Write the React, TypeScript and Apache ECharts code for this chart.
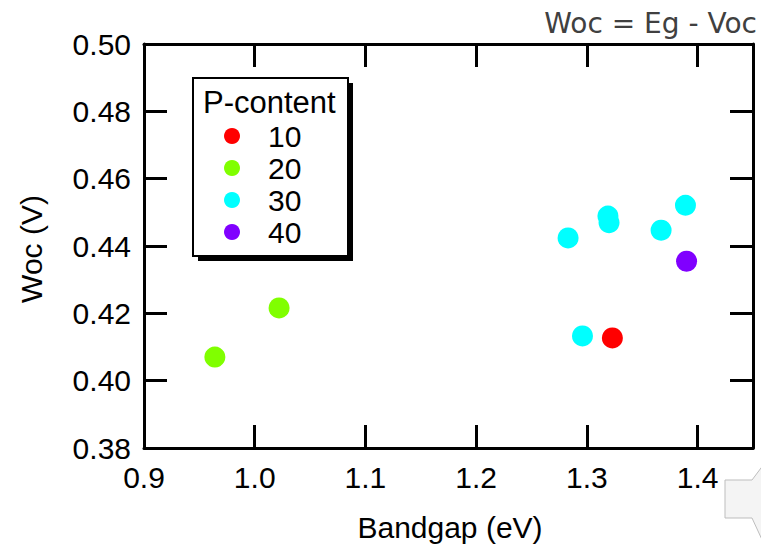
import React, { useEffect, useRef } from "react";
import * as echarts from "echarts";

const seriesNames = ["10", "20", "30", "40"];
const seriesColors = ["#ff0000", "#80ff00", "#00ffff", "#8000ff"];

const bandgap10 = [1.323];
const woc10 = [0.4127];
const bandgap20 = [0.964, 1.022];
const woc20 = [0.407, 0.4216];
const bandgap30 = [1.283, 1.296, 1.319, 1.32, 1.367, 1.389];
const woc30 = [0.4424, 0.4133, 0.4489, 0.4469, 0.4447, 0.4521];
const bandgap40 = [1.39];
const woc40 = [0.4355];

const xName = "Bandgap (eV)";
const yName = "Woc (V)";
const titleText = "Woc = Eg - Voc";
const legendTitle = "P-content";

const FONT = "'Liberation Sans', Arial, Helvetica, sans-serif";

export default function App() {
  const ref = useRef<HTMLDivElement>(null);
  useEffect(() => {
    if (!ref.current) return;
    const chart = echarts.init(ref.current, undefined, { renderer: "svg" });
    const xs = [bandgap10, bandgap20, bandgap30, bandgap40];
    const ys = [woc10, woc20, woc30, woc40];
    const series = seriesNames.map((name, i) => ({
      type: "scatter",
      name,
      xAxisIndex: 0,
      yAxisIndex: 0,
      symbol: "circle",
      symbolSize: 21,
      itemStyle: { color: seriesColors[i], opacity: 1 },
      data: xs[i].map((x, j) => [x, ys[i][j]]),
      z: 2,
    }));
    const axisLine = { show: true, onZero: false, lineStyle: { color: "#000", width: 3 } };
    const axisTick = { show: true, inside: true, length: 23, lineStyle: { color: "#000", width: 3 } };
    chart.setOption({
      animation: false,
      backgroundColor: "#fff",
      grid: { left: 144, top: 44, right: 8, bottom: 98, containLabel: false },
      xAxis: [
        {
          type: "value",
          position: "bottom",
          min: 0.9,
          max: 1.45,
          interval: 0.1,
          axisLine,
          axisTick,
          splitLine: { show: false },
          axisLabel: {
            show: true,
            fontSize: 30,
            fontFamily: FONT,
            color: "#000",
            margin: 14,
            showMaxLabel: false,
            formatter: (v: number) => v.toFixed(1),
          },
        },
        {
          type: "value",
          position: "top",
          min: 0.9,
          max: 1.45,
          interval: 0.1,
          axisLine,
          axisTick,
          splitLine: { show: false },
          axisLabel: { show: false },
        },
      ],
      yAxis: [
        {
          type: "value",
          position: "left",
          min: 0.38,
          max: 0.5,
          interval: 0.02,
          axisLine,
          axisTick,
          splitLine: { show: false },
          axisLabel: {
            show: true,
            fontSize: 30,
            fontFamily: FONT,
            color: "#000",
            margin: 13,
            formatter: (v: number) => v.toFixed(2),
          },
        },
        {
          type: "value",
          position: "right",
          min: 0.38,
          max: 0.5,
          interval: 0.02,
          axisLine,
          axisTick,
          splitLine: { show: false },
          axisLabel: { show: false },
        },
      ],
      legend: {
        show: true,
        orient: "vertical",
        left: 224,
        top: 120,
        padding: 0,
        itemGap: 0,
        itemWidth: 16,
        itemHeight: 16,
        icon: "circle",
        data: seriesNames,
        z: 10,
        textStyle: {
          fontSize: 30,
          fontFamily: FONT,
          color: "#000",
          lineHeight: 32,
          padding: [0, 0, 0, 23],
        },
      },
      graphic: [
        {
          type: "rect",
          z: 5,
          shape: { x: 198, y: 83, width: 155, height: 178 },
          style: { fill: "#000" },
        },
        {
          type: "rect",
          z: 6,
          shape: { x: 193, y: 78, width: 155, height: 178 },
          style: { fill: "#fff", stroke: "#000", lineWidth: 2 },
        },
        {
          type: "text",
          z: 7,
          x: 203,
          y: 102,
          style: {
            text: legendTitle,
            fontSize: 31,
            fontFamily: FONT,
            fill: "#000",
            textAlign: "left",
            textVerticalAlign: "middle",
          },
        },
        {
          type: "text",
          x: 757,
          y: 23,
          style: {
            text: titleText,
            fontSize: 28,
            fontFamily: "'DejaVu Sans', sans-serif",
            fill: "#404040",
            textAlign: "right",
            textVerticalAlign: "middle",
          },
        },
        {
          type: "text",
          x: 450,
          y: 527,
          style: {
            text: xName,
            fontSize: 30,
            fontFamily: FONT,
            fill: "#000",
            textAlign: "center",
            textVerticalAlign: "middle",
          },
        },
        {
          type: "text",
          x: 31.5,
          y: 249,
          rotation: Math.PI / 2,
          style: {
            text: yName,
            fontSize: 30,
            fontFamily: FONT,
            fill: "#000",
            textAlign: "center",
            textVerticalAlign: "middle",
          },
        },
        {
          type: "polygon",
          shape: {
            points: [
              [725, 480],
              [752, 480],
              [764, 464],
              [764, 544],
              [752, 518],
              [725, 518],
            ],
          },
          style: { fill: "#f4f4f4", stroke: "#bdbdbd", lineWidth: 1 },
        },
      ],
      series,
    });
    return () => chart.dispose();
  }, []);
  return (
    <div
      ref={ref}
      style={{ position: "absolute", left: 0, top: 0, width: 761, height: 546 }}
    />
  );
}
